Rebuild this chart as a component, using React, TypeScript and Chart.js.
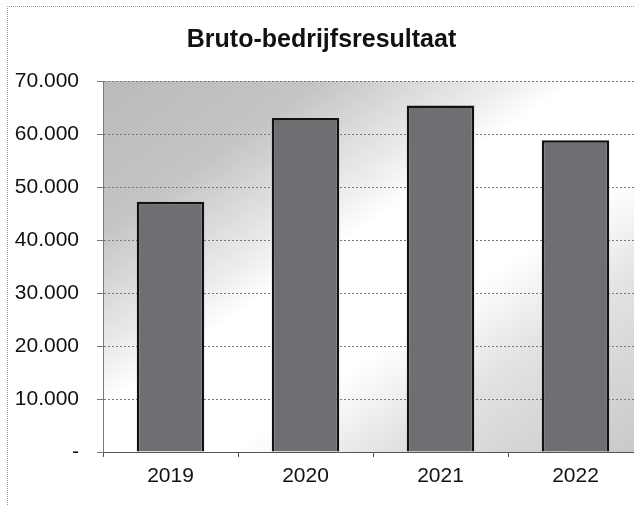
import React, { useEffect, useRef } from "react";
import { Chart, registerables } from "chart.js";

Chart.register(...registerables);

const categories = ["2019", "2020", "2021", "2022"];
const values = [47200, 63000, 65400, 58800];
const yTickMax = 70000;
const yTickStep = 10000;
const title = "Bruto-bedrijfsresultaat";

const FONT = "'Liberation Sans', Arial, sans-serif";

function fmt(v: number): string {
  if (v === 0) return "-";
  return String(Math.round(v)).replace(/\B(?=(\d{3})+(?!\d))/g, ".");
}

const bgPlugin = {
  id: "bgPlugin",
  beforeDraw(chart: any) {
    const { ctx, chartArea, width, height } = chart;
    ctx.save();
    ctx.fillStyle = "#ffffff";
    ctx.fillRect(0, 0, width, height);
    // outer dotted border
    ctx.strokeStyle = "#9a9a9a";
    ctx.lineWidth = 1;
    ctx.setLineDash([1, 1]);
    ctx.beginPath();
    ctx.moveTo(7.5, height);
    ctx.lineTo(7.5, 6.5);
    ctx.lineTo(width, 6.5);
    ctx.stroke();
    ctx.setLineDash([]);
    // plot area gradient
    const { left, top, right, bottom } = chartArea;
    const w = right - left;
    const h = bottom - top;
    const cx = (left + right) / 2;
    const cy = (top + bottom) / 2;
    const L2 = w * w + h * h;
    const k = (w * h) / L2;
    const g = ctx.createLinearGradient(cx - k * h, cy - k * w, cx + k * h, cy + k * w);
    g.addColorStop(0, "#bababa");
    g.addColorStop(0.2, "#c4c4c4");
    g.addColorStop(0.37, "#ececec");
    g.addColorStop(0.44, "#ffffff");
    g.addColorStop(0.62, "#ffffff");
    g.addColorStop(0.76, "#e2e2e2");
    g.addColorStop(1, "#c8c8c8");
    ctx.fillStyle = g;
    ctx.fillRect(left, top, w, h);
    ctx.restore();
  },
};

export default function App() {
  const ref = useRef<HTMLCanvasElement>(null);
  useEffect(() => {
    if (!ref.current) return;
    const chart = new Chart(ref.current, {
      type: "bar",
      data: {
        labels: categories,
        datasets: [
          {
            data: values,
            backgroundColor: "#6e6f73",
            borderColor: "#111111",
            borderWidth: 2.5,
            barPercentage: 0.5,
            categoryPercentage: 1,
          },
        ],
      },
      options: {
        responsive: false,
        animation: false,
        layout: { padding: { left: 0, right: 17, top: 0, bottom: 0 } },
        plugins: {
          legend: { display: false },
          tooltip: { enabled: false },
          title: {
            display: true,
            text: title,
            color: "#111111",
            font: { family: FONT, size: 25, weight: "bold" },
            padding: { top: 25, bottom: 26 },
          },
        },
        scales: {
          x: {
            grid: {
              display: true,
              drawOnChartArea: false,
              drawTicks: true,
              tickLength: 5,
              color: "#555555",
            },
            border: { display: true, color: "#555555", dash: [2, 1] },
            ticks: {
              color: "#111111",
              font: { family: FONT, size: 21 },
              padding: 7,
            },
            afterFit(scale: any) {
              scale.height = 53;
            },
          },
          y: {
            min: 0,
            max: yTickMax,
            grid: {
              color: "#7a7a7a",
              tickLength: 6,
              drawTicks: true,
            },
            border: { display: true, color: "#7a7a7a", dash: [2, 2] },
            ticks: {
              stepSize: yTickStep,
              color: "#111111",
              font: { family: FONT, size: 21 },
              padding: 18,
              callback: (v: any) => fmt(Number(v)),
            },
            afterFit(scale: any) {
              scale.width = 103;
            },
          },
        },
      },
      plugins: [bgPlugin],
    } as any);
    return () => chart.destroy();
  }, []);
  return (
    <div
      style={{
        position: "fixed",
        left: 0,
        top: 0,
        width: 634,
        height: 505,
        overflow: "hidden",
        background: "#fff",
      }}
    >
      <canvas ref={ref} width={660} height={505} style={{ display: "block" }} />
    </div>
  );
}
